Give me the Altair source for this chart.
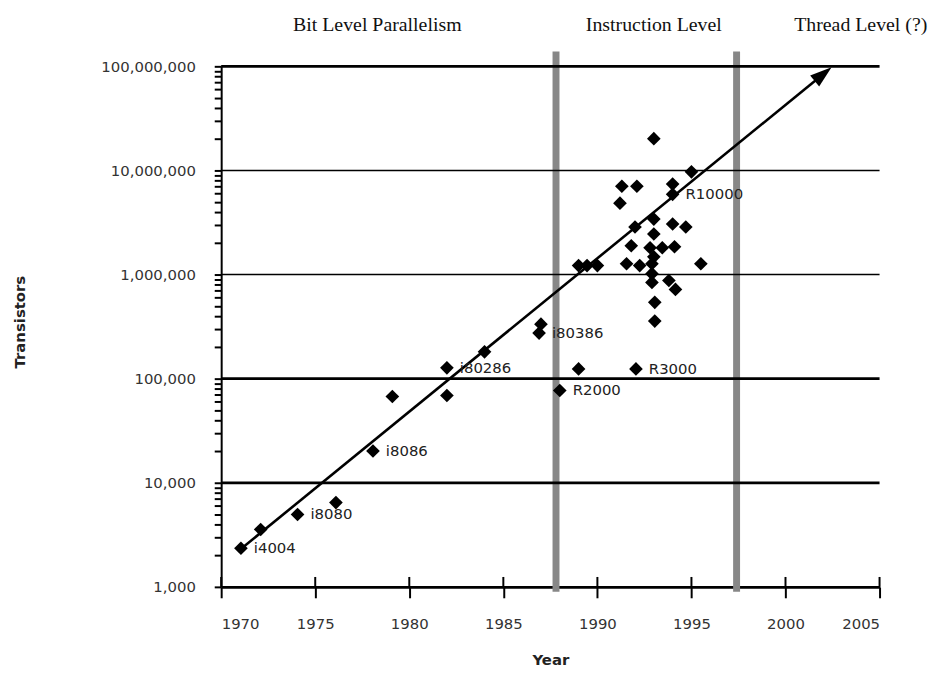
import math
import altair as alt
import pandas as pd

# ---------------- data ----------------
years = [1971.05, 1972.1, 1974.06, 1976.1, 1978.07, 1979.1, 1982.0, 1982.0, 1984.0,
         1986.9, 1987.0, 1988.0, 1989.0, 1992.05, 1993.0, 1995.0, 1994.0, 1994.0,
         1991.3, 1992.1, 1991.2, 1992.0, 1993.0, 1993.0, 1994.0, 1994.7, 1991.8,
         1992.8, 1993.45, 1994.1, 1993.0, 1991.55, 1992.25, 1992.9, 1992.9, 1995.5,
         1989.0, 1989.45, 1990.0, 1992.9, 1993.8, 1994.15, 1993.05, 1993.05]
transistors = [2350, 3560, 4960, 6450, 20200, 67400, 68900, 127000, 181000,
               274000, 334000, 77000, 124000, 124000, 20200000, 9700000, 7400000, 5900000,
               7050000, 7050000, 4850000, 2860000, 3410000, 2450000, 3060000, 2860000, 1890000,
               1810000, 1810000, 1850000, 1480000, 1270000, 1220000, 1270000, 1020000, 1270000,
               1220000, 1220000, 1220000, 840000, 877000, 720000, 541000, 357000]
names = ["i4004", "", "i8080", "", "i8086", "", "", "i80286", "",
         "i80386", "", "R2000", "", "R3000", "", "", "", "R10000",
         "", "", "", "", "", "", "", "", "",
         "", "", "", "", "", "", "", "", "",
         "", "", "", "", "", "", "", ""]

trend_years = [1970.9, 2002.0]
trend_values = [2200, 84000000]

era_names = ["Bit Level Parallelism", "Instruction Level", "Thread Level (?)"]
era_label_years = [1978.3, 1993.0, 2004.0]
era_boundaries = [1987.8, 1997.4]

x_ticks = [1970, 1975, 1980, 1985, 1990, 1995, 2000, 2005]
y_decades = [1000, 10000, 100000, 1000000, 10000000, 100000000]

# ---------------- chart ----------------
W, H = 664, 525
X0, X1 = 1970, 2005
Y0, Y1 = 1000, 100000000

y_tick_values = [m * 10 ** e for e in range(3, 8) for m in range(1, 10)] + [Y1]

xscale = alt.Scale(domain=[X0, X1], nice=False, zero=False)
yscale = alt.Scale(type="log", domain=[Y0, Y1], nice=False)

xaxis = alt.Axis(
    title="Year", values=x_ticks, format="d", grid=False,
    domainColor="black", domainWidth=3, tickColor="black", tickWidth=2, tickSize=11,
    labelFont="DejaVu Sans", labelFontSize=15, labelColor="#333", labelPadding=19,
    titleFont="DejaVu Sans", titleFontSize=15, titleFontWeight="bold", titleColor="#222",
    titleY=73, titleBaseline="middle",
)
yaxis = alt.Axis(
    title="Transistors", values=y_tick_values, grid=False, labelOverlap=False,
    labelExpr="abs(log(datum.value)/LN10 - round(log(datum.value)/LN10)) < 0.000001 ? format(datum.value, ',') : ''",
    domainColor="black", domainWidth=2, tickColor="black", tickWidth=2, tickSize=7,
    labelFont="DejaVu Sans", labelFontSize=15, labelColor="#333", labelPadding=19,
    titleFont="DejaVu Sans", titleFontSize=15, titleFontWeight="bold", titleColor="#222",
    titleX=-203, titleY=H / 2 - 5, titleAngle=270, titleAlign="center", titleBaseline="middle",
)

XE = alt.X("year:Q", scale=xscale, axis=xaxis)
YE = alt.Y("value:Q", scale=yscale, axis=yaxis)

pts_df = pd.DataFrame({"year": years, "value": transistors, "name": names})
lab_df = pts_df[pts_df["name"] != ""]

era = alt.Chart(pd.DataFrame({"year": era_boundaries})).mark_rule(
    color="#878787", strokeWidth=7
).encode(x=XE, y=alt.value(-15), y2=alt.value(H + 5))

grid = alt.Chart(pd.DataFrame({"value": y_decades[1:]})).mark_rule(color="black").encode(
    y=YE, x=alt.value(0), x2=alt.value(W),
    strokeWidth=alt.condition("datum.value == 1000000 || datum.value == 10000000",
                              alt.value(1.6), alt.value(2.8)),
)

inner_ticks = alt.Chart(pd.DataFrame({"year": x_ticks})).mark_rule(
    color="black", strokeWidth=2
).encode(x=XE, y=alt.value(H - 10), y2=alt.value(H))

trend_df = pd.DataFrame({"year": trend_years, "value": trend_values})
trend = alt.Chart(trend_df).mark_line(color="black", strokeWidth=2.6).encode(x=XE, y=YE)

# arrow-head rotation from the pixel geometry of the trend line
dx_px = (trend_years[1] - trend_years[0]) * W / (X1 - X0)
dy_px = (math.log10(trend_values[1]) - math.log10(trend_values[0])) * H / (math.log10(Y1) - math.log10(Y0))
arrow_angle = 90 - math.degrees(math.atan2(dy_px, dx_px))

arrow = alt.Chart(trend_df.iloc[[1]]).mark_point(
    shape="M0,-1L0.65,1L-0.65,1Z", filled=True, size=484, color="black",
    opacity=1, angle=arrow_angle,
).encode(x=XE, y=YE)

pts = alt.Chart(pts_df).mark_point(
    shape="diamond", filled=True, size=190, color="black", opacity=1
).encode(x=XE, y=YE)

labels = alt.Chart(lab_df).mark_text(
    align="left", baseline="middle", dx=13, font="DejaVu Sans", fontSize=15, color="#222"
).encode(x=XE, y=YE, text="name:N")

headers = alt.Chart(pd.DataFrame({"year": era_label_years, "name": era_names})).mark_text(
    font="Liberation Serif", fontSize=20, align="center", baseline="middle", color="#111"
).encode(x=XE, y=alt.value(-42), text="name:N")

chart = alt.layer(era, grid, inner_ticks, trend, arrow, pts, labels, headers).properties(
    width=W, height=H,
    autosize=alt.AutoSizeParams(type="none"),
    padding={"left": 215, "top": 56, "right": 65, "bottom": 80},
    background="white",
).configure_view(stroke=None)

chart.save("out.html", embed_options={"renderer": "svg", "actions": False})
